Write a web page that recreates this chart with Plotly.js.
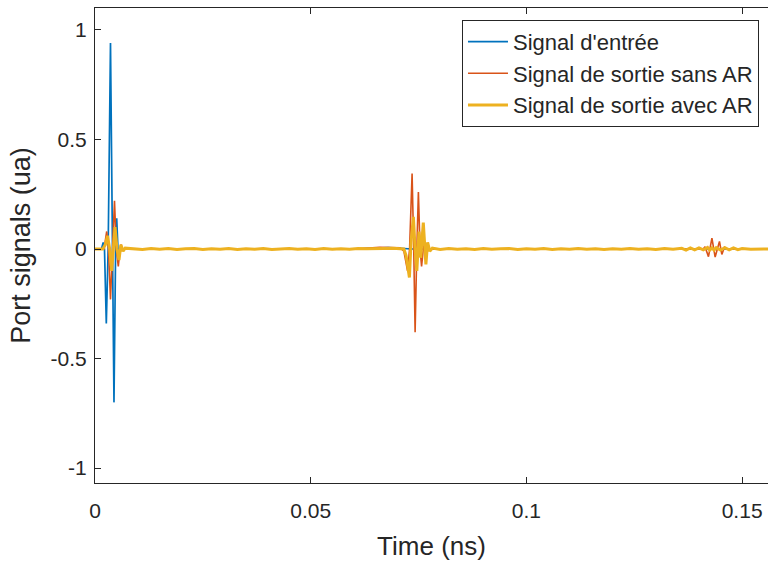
<!DOCTYPE html>
<html>
<head>
<meta charset="utf-8">
<script src="https://cdn.plot.ly/plotly-3.0.1.min.js"></script>
<style>html,body{margin:0;padding:0;background:#fff;}#chart{width:768px;height:561px;}</style>
</head>
<body>
<div id="chart"></div>
<script>
// Series names
const seriesNames = ["Signal d'entrée", "Signal de sortie sans AR", "Signal de sortie avec AR"];

// Input signal (ns, ua)
const tInput = [0, 0.0015, 0.0019, 0.0022, 0.00262, 0.00305, 0.00359, 0.00402, 0.0044, 0.00478, 0.00503, 0.00533, 0.00556, 0.0058, 0.06, 0.068, 0.0715, 0.0735, 0.156];
const yInput = [0, 0, 0.03, 0, -0.34, 0, 0.94, 0, -0.70, 0, 0.14, 0, -0.03, 0, 0, 0.006, 0.004, 0, 0];

// Output without AR
const tNoAR = [0, 0.0021, 0.00271, 0.00313, 0.00359, 0.00406, 0.00452, 0.00494, 0.0054, 0.0058, 0.006, 0.0064,
  0.06, 0.066, 0.0707, 0.0716, 0.07245, 0.07292, 0.0735, 0.07388, 0.0742, 0.0746, 0.07496, 0.07535, 0.0757, 0.0761, 0.0764, 0.0767,
  0.141, 0.1414, 0.1422, 0.143, 0.14375, 0.14475, 0.1453, 0.1459, 0.1465, 0.156];
const yNoAR = [0, 0, 0.08, 0, -0.23, 0, 0.22, 0, -0.08, 0, 0.02, 0,
  0, 0.008, 0.006, -0.01, -0.10, 0, 0.345, 0, -0.38, 0, 0.26, 0, -0.08, 0, 0.03, 0,
  0, 0.01, -0.035, 0.05, -0.037, 0.035, -0.025, 0.008, 0, 0];

// Output with AR
const tAR = [0, 0.0018, 0.0024, 0.0029, 0.0034, 0.00387, 0.00425, 0.00464, 0.0051, 0.00556, 0.006, 0.0065, 0.007,
  0.009, 0.011, 0.013, 0.015, 0.017, 0.019, 0.021, 0.023, 0.025, 0.027, 0.029, 0.031, 0.033, 0.035, 0.037, 0.039,
  0.041, 0.043, 0.045, 0.047, 0.049, 0.051, 0.053, 0.055, 0.057, 0.059, 0.061, 0.063, 0.065, 0.067, 0.069, 0.071,
  0.0716, 0.0721, 0.07288, 0.07325, 0.0738, 0.0742, 0.0746, 0.0751, 0.0755, 0.0761, 0.0767, 0.0771, 0.0776, 0.0782,
  0.080, 0.082, 0.084, 0.086, 0.088, 0.090, 0.092, 0.094, 0.096, 0.098, 0.100, 0.102, 0.104, 0.106, 0.108, 0.110,
  0.112, 0.114, 0.116, 0.118, 0.120, 0.122, 0.124, 0.126, 0.128, 0.130, 0.132, 0.134, 0.136, 0.137, 0.138, 0.139,
  0.140, 0.141, 0.142, 0.1425, 0.143, 0.1435, 0.144, 0.145, 0.146, 0.147, 0.148, 0.149, 0.150, 0.152, 0.154, 0.156];
const yAR = [0, 0, 0.02, 0.06, 0, -0.10, 0, 0.10, 0, -0.05, 0.02, -0.01, 0.004,
  0.001, -0.002, 0.002, -0.001, 0.002, -0.002, 0.001, 0.002, -0.002, 0.001, -0.001, 0.002, -0.002, 0.001, -0.001, 0.002,
  -0.002, 0.001, 0.002, -0.001, 0.001, -0.002, 0.002, -0.001, 0.001, -0.001, 0.002, 0.001, 0.003, 0.002, 0.003, 0.002,
  0, -0.03, -0.13, 0.03, 0.147, 0, -0.10, 0.08, -0.04, 0.12, -0.07, 0.03, -0.01, 0.004,
  -0.002, 0.002, -0.001, 0.001, -0.002, 0.002, -0.001, 0.001, 0.002, -0.002, 0.001, -0.001, 0.002, -0.002, 0.001, -0.001,
  0.002, -0.001, 0.001, -0.002, 0.001, -0.001, 0.002, -0.001, 0.001, -0.002, 0.002, -0.001, 0.003, -0.005, 0.005, -0.004,
  0.005, -0.004, 0.007, -0.005, 0.005, -0.005, 0.006, -0.005, 0.006, -0.004, 0.005, -0.003, 0.002, -0.001, 0.001, 0];

// Axis ticks
const xTickVals = [0, 0.05, 0.1, 0.15];
const xTickText = ['0', '0.05', '0.1', '0.15'];
const yTickVals = [-1, -0.5, 0, 0.5, 1];
const yTickText = ['-1', '-0.5', '0', '0.5', '1'];

const ink = '#262626';
const traces = [
  {x: tInput, y: yInput, name: seriesNames[0], type: 'scatter', mode: 'lines', line: {color: '#0072BD', width: 1.7}},
  {x: tNoAR, y: yNoAR, name: seriesNames[1], type: 'scatter', mode: 'lines', line: {color: '#D95319', width: 1.6}},
  {x: tAR, y: yAR, name: seriesNames[2], type: 'scatter', mode: 'lines', line: {color: '#EDB120', width: 3}}
];

const layout = {
  width: 768, height: 561,
  margin: {l: 95, r: 0, t: 8, b: 78, pad: 0},
  paper_bgcolor: '#fff', plot_bgcolor: '#fff',
  font: {family: 'Liberation Sans, Arial, sans-serif', color: ink, size: 21},
  showlegend: true,
  legend: {
    x: 0.9866, y: 0.975, xanchor: 'right', yanchor: 'top',
    bgcolor: '#fff', bordercolor: ink, borderwidth: 1,
    font: {size: 22, color: ink}, itemwidth: 40, tracegroupgap: 0
  },
  xaxis: {
    range: [0, 0.156], tickmode: 'array', tickvals: xTickVals, ticktext: xTickText,
    ticks: 'inside', ticklen: 6, tickwidth: 1, tickcolor: ink,
    showline: true, linecolor: ink, linewidth: 1, mirror: 'ticks',
    showgrid: false, zeroline: false, ticklabelstandoff: 9,
    tickfont: {size: 21, color: ink},
    title: {text: 'Time (ns)', font: {size: 26, color: ink}, standoff: 15}
  },
  yaxis: {
    range: [-1.068, 1.1], tickmode: 'array', tickvals: yTickVals, ticktext: yTickText,
    ticks: 'inside', ticklen: 6, tickwidth: 1, tickcolor: ink,
    showline: true, linecolor: ink, linewidth: 1, mirror: false,
    showgrid: false, zeroline: false, ticklabelstandoff: 3,
    tickfont: {size: 21, color: ink},
    title: {text: 'Port signals (ua)', font: {size: 27, color: ink}, standoff: 12}
  }
};

Plotly.newPlot('chart', traces, layout, {staticPlot: true, displayModeBar: false});
</script>
</body>
</html>
